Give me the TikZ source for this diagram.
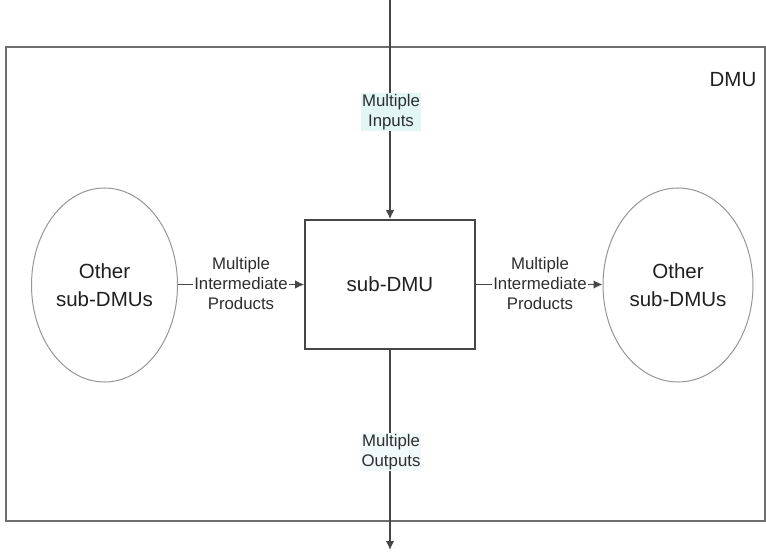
\documentclass[tikz,border=0pt]{standalone}
\usepackage{fontspec}
\setmainfont{Liberation Sans}
\usetikzlibrary{arrows.meta,shapes.geometric}
\definecolor{linegray}{RGB}{70,70,70}
\definecolor{framegray}{RGB}{110,110,110}
\definecolor{ellgray}{RGB}{150,150,150}
\definecolor{lblcyan}{RGB}{226,246,246}
\begin{document}
\begin{tikzpicture}[x=1pt,y=-1pt,
  bigtext/.style={font=\fontsize{20.5}{28}\selectfont, align=center, text=black!88},
  lbl/.style={font=\fontsize{16.8}{20}\selectfont, align=center, text=black!82, inner sep=1pt},
  conn/.style={draw=linegray, line width=1.4pt, -{Latex[length=9pt,width=8.5pt]}},
  subbox/.style={draw=linegray, line width=1.6pt, minimum width=170pt, minimum height=129pt, inner sep=0pt, bigtext},
  other/.style={ellipse, draw=ellgray, line width=1pt, minimum width=146pt, minimum height=194pt, inner sep=0pt, bigtext}
]
\useasboundingbox (0,0) rectangle (766,553);
% outer DMU frame
\draw[framegray, line width=2.2pt] (6,47) rectangle (765,521);
\node[bigtext, anchor=center] (dmu) at (733,80) {DMU};

\node[subbox] (sub) at (390,284.5) {sub-DMU};
\node[other, minimum width=146pt] (left) at (104.5,285) {Other\\sub-DMUs};
\node[other, minimum width=150pt] (right) at (678,285) {Other\\sub-DMUs};

\coordinate (topin) at (390,0);
\coordinate (botout) at (390,550);

\draw[conn] (topin) -- (sub.north);
\draw[conn] (sub.south) -- (botout);
\draw[conn] (left.east |- sub.west) -- (sub.west);
\draw[conn] (sub.east) -- (right.west |- sub.east);

\node[lbl, fill=lblcyan] (inlbl) at (391,112) {Multiple\\Inputs};
\node[lbl, fill=lblcyan!50] (outlbl) at (391,452) {Multiple\\Outputs};
\node[lbl, fill=white] (midl) at (241,283) {Multiple\\Intermediate\\Products};
\node[lbl, fill=white] (midr) at (540,283) {Multiple\\Intermediate\\Products};
\end{tikzpicture}
\end{document}
